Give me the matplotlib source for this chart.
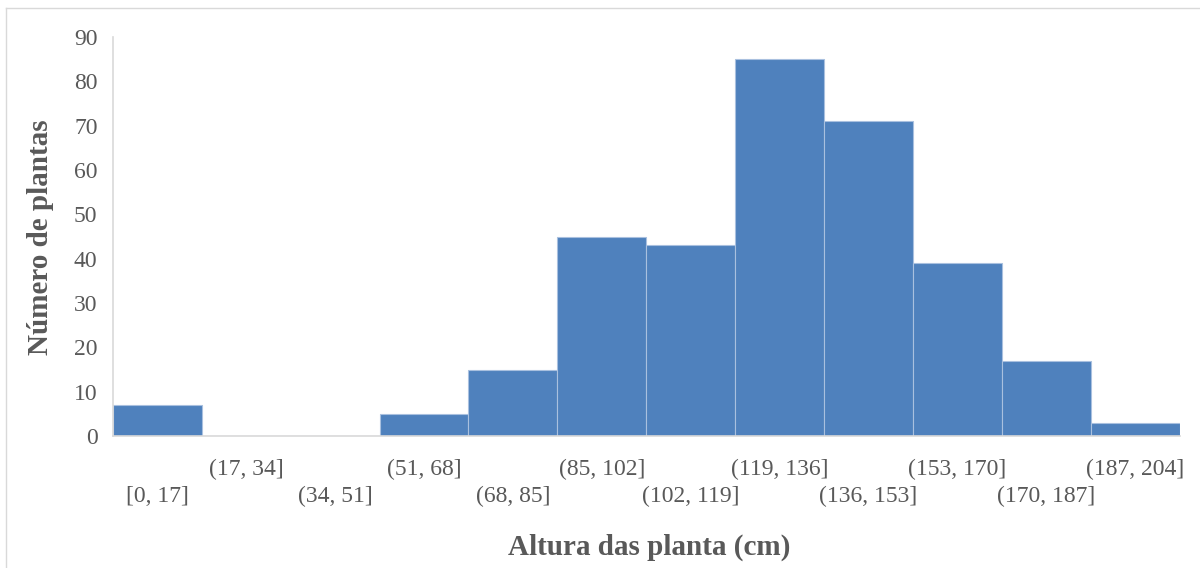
import matplotlib.pyplot as plt
from matplotlib.lines import Line2D
import numpy as np

plt.rcParams['font.family'] = ['Liberation Serif', 'DejaVu Serif']

# Classes de altura e contagens
classes = ['[0, 17]', '(17, 34]', '(34, 51]', '(51, 68]', '(68, 85]', '(85, 102]',
           '(102, 119]', '(119, 136]', '(136, 153]', '(153, 170]', '(170, 187]', '(187, 204]']
contagens = [7, 0, 0, 5, 15, 45, 43, 85, 71, 39, 17, 3]
yticks = [0, 10, 20, 30, 40, 50, 60, 70, 80, 90]

cor_barra = '#4F81BD'
cor_texto = '#595959'
cor_eixo = '#D9D9D9'

fig = plt.figure(figsize=(12, 5.68), dpi=100)
ax = fig.add_axes([0.094, 0.232, 0.889, 0.703])

pos = np.arange(len(classes))
ax.bar(pos, contagens, width=1.0, align='edge', color=cor_barra,
       edgecolor='#A9C0DF', linewidth=0.8)

ax.set_xlim(0, len(classes))
ax.set_ylim(0, 90)
ax.set_yticks(yticks)
ax.tick_params(axis='y', length=0, pad=11, labelsize=17, labelcolor=cor_texto)

# Rótulos alternados em duas linhas
centros = pos + 0.5
ax.set_xticks(centros[1::2])
ax.set_xticklabels(classes[1::2])
ax.set_xticks(centros[0::2], minor=True)
ax.set_xticklabels(classes[0::2], minor=True)
ax.tick_params(axis='x', which='major', length=0, pad=16, labelsize=17, labelcolor=cor_texto)
ax.tick_params(axis='x', which='minor', length=0, pad=36, labelsize=17, labelcolor=cor_texto)

for lado in ['top', 'right']:
    ax.spines[lado].set_visible(False)
ax.spines['left'].set_color(cor_eixo)
ax.spines['bottom'].set_color(cor_eixo)
ax.spines['left'].set_linewidth(1.2)
ax.spines['bottom'].set_linewidth(1.2)

fig.text(0.034, 0.583, 'Número de plantas', rotation=90, ha='center', va='center',
         fontsize=21, fontweight='bold', color=cor_texto)
fig.text(0.541, 0.037, 'Altura das planta (cm)', ha='center', va='center',
         fontsize=21, fontweight='bold', color=cor_texto)

# Moldura do gráfico
x0 = 6 / 1200
y1 = 1 - 8 / 568
fig.add_artist(Line2D([x0, x0], [0, y1], color=cor_eixo, linewidth=1))
fig.add_artist(Line2D([x0, 1], [y1, y1], color=cor_eixo, linewidth=1))

fig.savefig('out.png', dpi=100)
